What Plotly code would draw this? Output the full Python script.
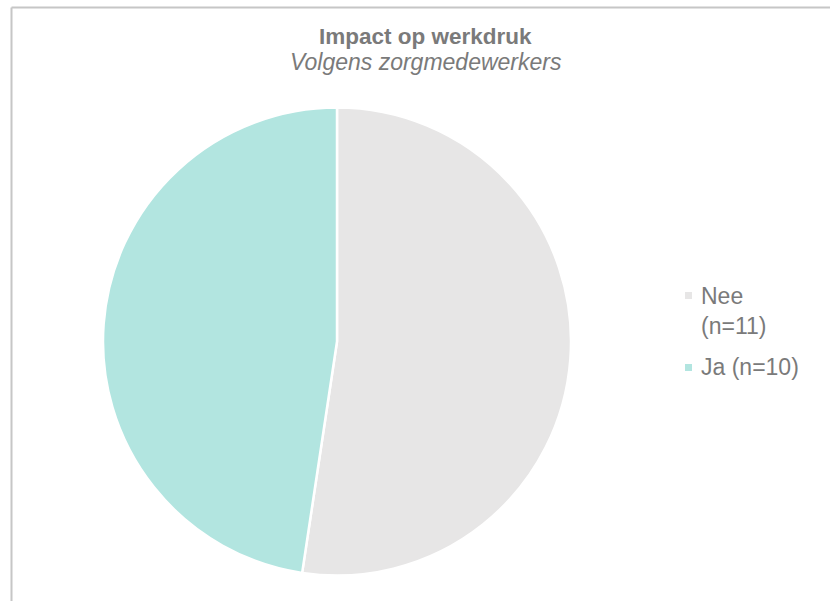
import plotly.graph_objects as go

labels = ["Nee<br>(n=11)", "Ja (n=10)"]
values = [11, 10]
colors = ["#E7E6E6", "#B2E5E0"]

W, H = 830, 601

fig = go.Figure(go.Pie(
    labels=labels,
    values=values,
    sort=False,
    direction="clockwise",
    rotation=0,
    textinfo="none",
    hoverinfo="label+value",
    marker=dict(colors=colors, line=dict(color="white", width=2.5)),
    domain=dict(x=[103/W, 571/W], y=[1-575.5/H, 1-107.5/H]),
    showlegend=False,
))

TXT = "#7a7a7a"
annotations = [
    dict(text="<b>Impact op werkdruk</b>", x=426/W, y=1-37/H, xref="paper", yref="paper",
         showarrow=False, xanchor="center", yanchor="middle",
         font=dict(size=22.5, color=TXT)),
    dict(text="<i>Volgens zorgmedewerkers</i>", x=426/W, y=1-62/H, xref="paper", yref="paper",
         showarrow=False, xanchor="center", yanchor="middle",
         font=dict(size=23, color=TXT)),
]
shapes = [
    dict(type="line", xref="paper", yref="paper", x0=11.5/W, x1=1, y0=1-7.5/H, y1=1-7.5/H,
         line=dict(color="#C6C6C6", width=2)),
    dict(type="line", xref="paper", yref="paper", x0=11.5/W, x1=11.5/W, y0=1-7.5/H, y1=0,
         line=dict(color="#C6C6C6", width=2)),
]

# custom legend (symbol centred on first line of each entry)
first_line_y = [295, 367]
line_h = 31
for lab, col, fy in zip(labels, colors, first_line_y):
    nlines = lab.count("<br>") + 1
    cy = fy + (nlines - 1) * line_h / 2
    annotations.append(dict(text=lab, x=699/W, y=1-cy/H, xref="paper", yref="paper",
                            showarrow=False, xanchor="left", yanchor="middle", align="left",
                            font=dict(size=23, color=TXT)))
    shapes.append(dict(type="rect", xref="paper", yref="paper",
                       x0=685/W, x1=692/W, y0=1-(fy+4)/H, y1=1-(fy-3)/H,
                       fillcolor=col, line=dict(width=0)))

fig.update_layout(
    width=W, height=H,
    margin=dict(l=0, r=0, t=0, b=0),
    paper_bgcolor="white",
    font=dict(family="Liberation Sans, Arial, sans-serif", color=TXT),
    annotations=annotations,
    shapes=shapes,
)

fig.write_html("out.html")
